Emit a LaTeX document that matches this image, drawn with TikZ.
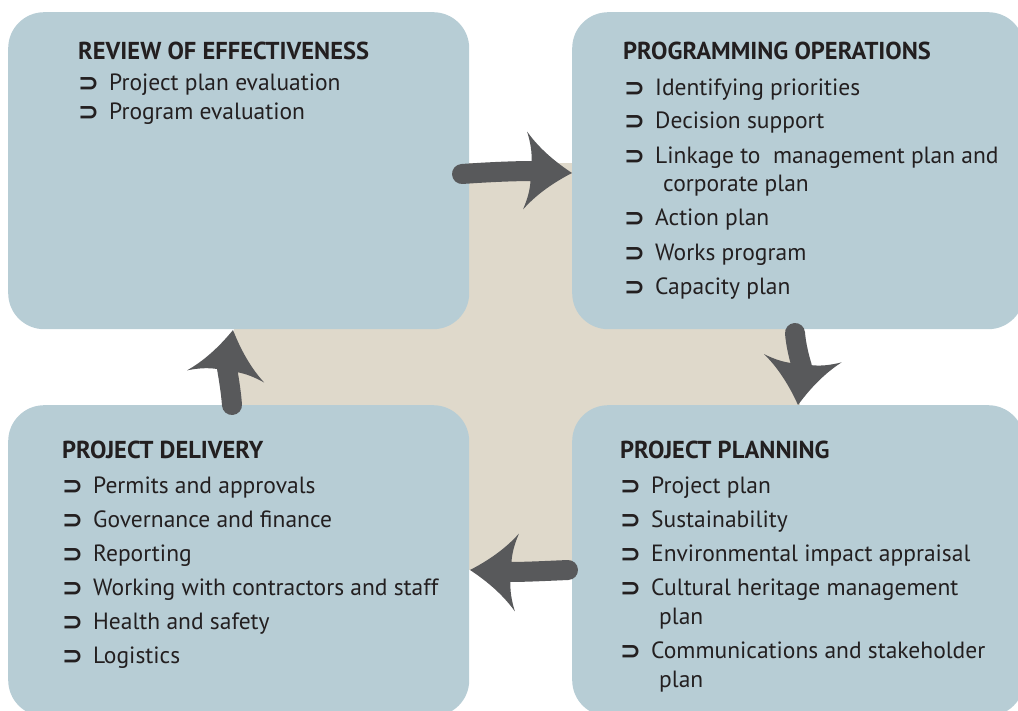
\documentclass[tikz,border=0pt]{standalone}
\usepackage{fontspec}
\setmainfont{PT Sans}
\newfontfamily\symf{DejaVu Sans}
\definecolor{boxblue}{HTML}{B7CDD5}
\definecolor{beige}{HTML}{DFD9CB}
\definecolor{arrowgrey}{HTML}{58595B}
\definecolor{ink}{HTML}{231F20}
\tikzset{
  panel/.style={fill=boxblue, draw=none, rounded corners=36pt, inner sep=0pt, anchor=north west},
  ttl/.style={anchor=base west, inner sep=0pt, text=ink, font=\fontsize{24.5}{28}\selectfont\bfseries},
  txt/.style={anchor=base west, inner sep=0pt, text=ink, font=\fontsize{23.5}{28}\selectfont},
  bul/.style={anchor=base west, inner sep=0pt, text=ink, font=\fontsize{25}{28}\selectfont\symf\bfseries},
  shaft/.style={draw=arrowgrey, line width=20pt, line cap=round},
  bighead/.pic={
    \fill[arrowgrey] (0,0) .. controls (-12,-7) and (-32,-20) .. (-47,-39)
      .. controls (-43,-28) and (-41,-19) .. (-41,-9) -- (-41,9)
      .. controls (-41,19) and (-43,28) .. (-47,39)
      .. controls (-32,20) and (-12,7) .. (0,0) -- cycle;
  }
}
\newcommand\entry[4]{%
  \node[bul] (#1b) at (#2,{#3+1}) {⊃};
  \node[txt] (#1) at ({#2+31},#3) {#4};}
\begin{document}
\begin{tikzpicture}[x=1pt,y=-1pt]
\useasboundingbox (0,0) rectangle (1018,711);
% beige cross
\fill[beige] (234,300) rectangle (800,434);
\fill[beige] (440,163) rectangle (600,570);
% panels
\node[panel, minimum width=461pt, minimum height=317pt] (tl) at (8,12) {};
\node[panel, minimum width=452pt, minimum height=317pt] (tr) at (572,12) {};
\node[panel, minimum width=461pt, minimum height=311pt] (bl) at (8,405) {};
\node[panel, minimum width=452pt, minimum height=311pt] (br) at (572,405) {};
% TL text
\node[ttl] (tlt) at (78,60) {REVIEW OF EFFECTIVENESS};
\entry{tla}{78}{91}{Project plan evaluation}
\entry{tlb}{78}{120}{Program evaluation}
% TR text
\node[ttl] (trt) at (623,60) {PROGRAMMING OPERATIONS};
\entry{tra}{624}{96}{Identifying priorities}
\entry{trb}{624}{129}{Decision support}
\entry{trc}{624}{164}{Linkage to\ \ management plan and}
\node[txt] (trc2) at (663,192) {corporate plan};
\entry{trd}{624}{226}{Action plan}
\entry{tre}{624}{261}{Works program}
\entry{trf}{624}{295}{Capacity plan}
% BL text
\node[ttl] (blt) at (62,458) {PROJECT DELIVERY};
\entry{bla}{62}{493}{Permits and approvals}
\entry{blb}{62}{527}{Governance and finance}
\entry{blc}{62}{561}{Reporting}
\entry{bld}{62}{595}{Working with contractors and staff}
\entry{ble}{62}{629}{Health and safety}
\entry{blf}{62}{663}{Logistics}
% BR text
\node[ttl] (brt) at (620,458) {PROJECT PLANNING};
\entry{bra}{620}{493}{Project plan}
\entry{brb}{620}{527}{Sustainability}
\entry{brc}{620}{561}{Environmental impact appraisal}
\entry{brd}{620}{595}{Cultural heritage management}
\node[txt] (brd2) at (659,624) {plan};
\entry{bre}{620}{658}{Communications and stakeholder}
\node[txt] (bre2) at (659,687) {plan};
% arrows
\coordinate (a1s) at (462,174); \coordinate (a1e) at (534,171);
\draw[shaft] (a1s) .. controls (490,172) and (515,171) .. (a1e);
\pic[rotate=-3] at (572,173) {bighead};
\coordinate (a2s) at (795,333); \coordinate (a2e) at (802,367);
\draw[shaft] (a2s) .. controls (796,345) and (799,357) .. (a2e);
\pic[rotate=-96] at (798,405) {bighead};
\coordinate (a3s) at (568,570); \coordinate (a3e) at (508,572);
\draw[shaft] (a3s) .. controls (545,571) and (525,572) .. (a3e);
\pic[rotate=177] at (470,570) {bighead};
\coordinate (a4s) at (232,405); \coordinate (a4e) at (227,368);
\draw[shaft] (a4s) .. controls (231,392) and (229,380) .. (a4e);
\pic[rotate=81] at (233,330) {bighead};
\end{tikzpicture}
\end{document}
